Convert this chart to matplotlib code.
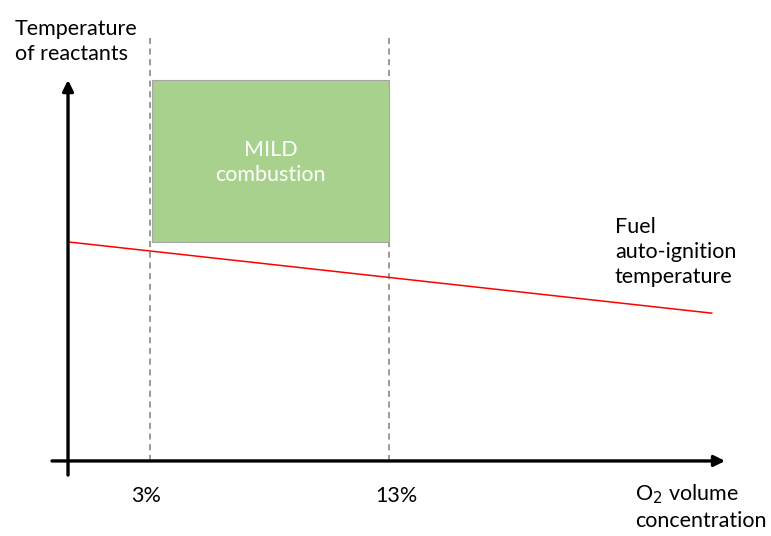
import numpy as np
import matplotlib
matplotlib.use('Agg')
from matplotlib import pyplot as plt
from matplotlib.patches import Rectangle

plt.rcParams['font.family'] = ['Lato', 'DejaVu Sans']

# O2 volume concentration (%) limits of the MILD region
o2_limits = [3, 13]
o2_labels = ['3%', '13%']
# MILD box, temperature in arbitrary units (0 = x axis, 1 = top of y axis)
mild_temp = [0.575, 1.0]
# fuel auto-ignition temperature line
ign_o2 = [-0.43, 26.5]
ign_temp = [0.575, 0.388]

fs = 15.5

fig = plt.figure(figsize=(7.71, 5.36), dpi=100)
ax = fig.add_axes([0, 0, 1, 1])
ax.set_xlim(-3.276, 28.98)
ax.set_ylim(-0.197, 1.21)
ax.axis('off')

# dashed limits
for x in o2_limits:
    ax.plot([x, x], [0, 1.11], color='#7f7f7f', lw=1.1, ls=(0, (4, 3)), zorder=1)

# MILD box
ax.add_patch(Rectangle((o2_limits[0] + 0.08, mild_temp[0]), o2_limits[1] - o2_limits[0] - 0.08,
                       mild_temp[1] - mild_temp[0], facecolor='#a9d18e', edgecolor='#a6a6a6',
                       lw=0.8, zorder=2))
ax.text(np.mean(o2_limits) + 0.05, np.mean(mild_temp) - 0.005, 'MILD\ncombustion', color='white',
        fontsize=fs, ha='center', va='center', linespacing=1.3, zorder=3)

# auto-ignition line
ax.plot(ign_o2, ign_temp, color='#ff0000', lw=1.1, zorder=2)

# axes arrows
x0 = ign_o2[0]
ax.annotate('', xy=(x0, 1.0), xytext=(x0, -0.037),
            arrowprops=dict(arrowstyle='-|>', lw=2.4, color='black', mutation_scale=16,
                            shrinkA=0, shrinkB=0), zorder=4)
ax.annotate('', xy=(27.06, 0), xytext=(-1.1, 0),
            arrowprops=dict(arrowstyle='-|>', lw=2.4, color='black', mutation_scale=16,
                            shrinkA=0, shrinkB=0), zorder=4)

# tick labels
for x, lab, dx in zip(o2_limits, o2_labels, [-0.15, 0.3]):
    ax.text(x + dx, -0.108, lab, fontsize=fs, ha='center', va='baseline')

ax.text(-2.65, 1.052, 'Temperature\nof reactants', fontsize=fs, ha='left', va='baseline',
        linespacing=1.3)
ax.text(22.45, 0.467, 'Fuel\nauto-ignition\ntemperature', fontsize=fs, ha='left',
        va='baseline', linespacing=1.3)
ax.text(23.3, -0.173, 'O$_2$ volume\nconcentration', fontsize=fs, ha='left',
        va='baseline', linespacing=1.3)

fig.savefig('out.png', dpi=100)
